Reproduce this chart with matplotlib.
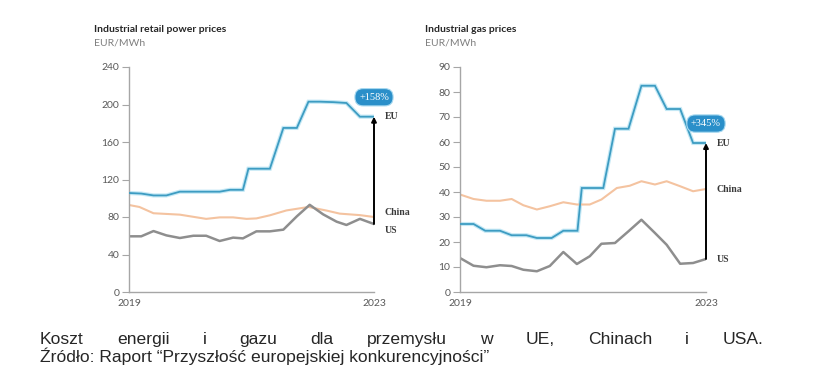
import matplotlib
matplotlib.use("Agg")
import matplotlib.pyplot as plt

# power prices, EUR/MWh
power_t_eu = [2019.0, 2019.2, 2019.4, 2019.61, 2019.83, 2020.05, 2020.26, 2020.48, 2020.65, 2020.86,
              2020.95, 2021.11, 2021.3, 2021.52, 2021.74, 2021.93, 2022.12, 2022.34, 2022.55, 2022.77, 2023.0]
power_eu = [105.6, 105, 103, 103, 107, 107, 107, 107, 109, 109,
            131.5, 131.5, 131.5, 175, 175, 203, 203, 202.5, 201.6, 187, 187]
power_t_cn = [2019.0, 2019.17, 2019.4, 2019.83, 2020.26, 2020.48, 2020.7, 2020.92, 2021.08, 2021.3,
              2021.57, 2021.93, 2022.23, 2022.44, 2022.77, 2023.0]
power_cn = [92.8, 90.7, 84, 82.5, 78, 79.6, 79.6, 78, 78.5, 81.8, 87, 90.7, 86.8, 83.6, 82, 80]
power_t_us = [2019.0, 2019.2, 2019.4, 2019.61, 2019.83, 2020.05, 2020.26, 2020.48, 2020.7, 2020.86,
              2021.08, 2021.3, 2021.52, 2021.74, 2021.95, 2022.17, 2022.39, 2022.55, 2022.77, 2023.0]
power_us = [59.4, 59.4, 65, 60.4, 57.6, 60, 60, 54.4, 58, 57.2,
            64.7, 64.7, 66.5, 80.7, 93, 82.8, 75, 71.5, 78, 72.5]

# gas prices, EUR/MWh
gas_t_eu = [2019.0, 2019.22, 2019.41, 2019.65, 2019.84, 2020.08, 2020.25, 2020.49, 2020.68, 2020.91,
            2020.98, 2021.17, 2021.33, 2021.52, 2021.74, 2021.95, 2022.17, 2022.36, 2022.58, 2022.79, 2023.0]
gas_eu = [27.2, 27.2, 24.5, 24.5, 22.7, 22.7, 21.6, 21.6, 24.5, 24.5,
          41.6, 41.6, 41.6, 65.3, 65.3, 82.5, 82.5, 73.2, 73.2, 59.6, 59.6]
gas_t_cn = [2019.0, 2019.22, 2019.43, 2019.65, 2019.84, 2020.03, 2020.25, 2020.46, 2020.68, 2020.9,
            2021.11, 2021.3, 2021.55, 2021.76, 2021.95, 2022.17, 2022.36, 2022.58, 2022.79, 2023.0]
gas_cn = [39, 37.2, 36.5, 36.5, 37.2, 34.7, 33, 34.3, 35.9, 35,
          35, 37, 41.6, 42.5, 44.3, 43, 44.3, 42.3, 40.3, 41.2]
gas_t_us = [2019.0, 2019.22, 2019.43, 2019.65, 2019.84, 2020.03, 2020.25, 2020.46, 2020.68, 2020.9,
            2021.11, 2021.3, 2021.52, 2021.74, 2021.95, 2022.17, 2022.36, 2022.58, 2022.79, 2023.0]
gas_us = [13.6, 10.5, 9.9, 10.7, 10.4, 8.9, 8.3, 10.4, 16, 11.2,
          14.3, 19.3, 19.6, 24.3, 28.9, 23.6, 18.9, 11.3, 11.6, 13.2]

power_ticks = [0, 40, 80, 120, 160, 200, 240]
gas_ticks = [0, 10, 20, 30, 40, 50, 60, 70, 80, 90]
year_ticks = [2019, 2023]

caption_line1 = "Koszt energii i gazu dla przemysłu w UE, Chinach i USA."
caption_line2 = "Źródło: Raport \u201cPrzyszłość europejskiej konkurencyjności\u201d"

EU_COLOR = "#3d9cc2"
EU_GLOW = "#c4e8f5"
CN_COLOR = "#f4c3a0"
US_COLOR = "#8e8e8e"
BUBBLE = "#2a8fc9"

fig = plt.figure(figsize=(8.23, 3.84), dpi=100)


def draw_panel(rect, title, ylim, yticks, t_eu, eu, t_cn, cn, t_us, us, pct, label_y):
    ax = fig.add_axes(rect)
    ax.plot(t_eu, eu, color=EU_GLOW, lw=3.0, solid_joinstyle="miter", zorder=2)
    ax.plot(t_eu, eu, color=EU_COLOR, lw=1.3, solid_joinstyle="miter", zorder=3)
    ax.plot(t_cn, cn, color=CN_COLOR, lw=1.5, zorder=2)
    ax.plot(t_us, us, color=US_COLOR, lw=1.8, zorder=2)

    ax.set_xlim(2019, 2023)
    ax.set_ylim(*ylim)
    ax.set_yticks(yticks)
    ax.set_xticks(year_ticks)
    ax.tick_params(axis="y", length=5, width=0.8, color="#a6a6a6", pad=2,
                   labelsize=7.5, labelcolor="#595959")
    ax.tick_params(axis="x", length=0, pad=5, labelsize=7.5, labelcolor="#595959")
    for lab in ax.get_xticklabels() + ax.get_yticklabels():
        lab.set_fontfamily("Lato")
    for side in ["top", "right"]:
        ax.spines[side].set_visible(False)
    for side in ["left", "bottom"]:
        ax.spines[side].set_color("#a6a6a6")
        ax.spines[side].set_linewidth(1.0)

    ax.annotate("", xy=(2023, eu[-1]), xytext=(2023, us[-1]),
                arrowprops=dict(arrowstyle="-|>", color="black", lw=1.4,
                                mutation_scale=7, shrinkA=0, shrinkB=0),
                zorder=5, annotation_clip=False)

    ax.annotate(pct, xy=(2023, eu[-1]), xytext=(0, 14), textcoords="offset points",
                ha="center", va="center", color="white", fontsize=7.5,
                family="Liberation Serif",
                bbox=dict(boxstyle="round,pad=0.4,rounding_size=0.8",
                          fc=BUBBLE, ec="#a8d9f0", lw=0.8),
                annotation_clip=False, zorder=6)

    for name, y in zip(["EU", "China", "US"], label_y):
        ax.annotate(name, xy=(2023, y), xytext=(7.5, 0), textcoords="offset points",
                    ha="left", va="center", fontsize=7, fontweight="bold",
                    color="#3a3a3a", family="Liberation Serif", annotation_clip=False)

    x0 = rect[0] - 35 / 823
    fig.text(x0, 1 - 29 / 384, title, fontsize=7.5, fontweight="bold", color="#262626",
             family="Lato", va="center")
    fig.text(x0, 1 - 43 / 384, "EUR/MWh", fontsize=7.5, color="#7f7f7f",
             family="Lato", va="center")
    return ax


draw_panel([129 / 823, 92 / 384, 245 / 823, 225 / 384], "Industrial retail power prices",
           (0, 240), power_ticks, power_t_eu, power_eu, power_t_cn, power_cn,
           power_t_us, power_us, "+158%", [186.7, 85.3, 66])
draw_panel([460 / 823, 92 / 384, 246 / 823, 225 / 384], "Industrial gas prices",
           (0, 90), gas_ticks, gas_t_eu, gas_eu, gas_t_cn, gas_cn,
           gas_t_us, gas_us, "+345%", [59.6, 40.8, 13.2])

# caption: first line justified across the width, second line left aligned
cap_font = dict(fontsize=12.6, color="#262626", family=["Liberation Sans Narrow", "Liberation Sans"],
                va="baseline", ha="left")
left_px, right_px = 40, 763
words = caption_line1.split()
word_texts = [fig.text(0, 1 - 344 / 384, w, **cap_font) for w in words]
fig.canvas.draw()
renderer = fig.canvas.get_renderer()
widths = [t.get_window_extent(renderer).width for t in word_texts]
gap = (right_px - left_px - sum(widths)) / (len(words) - 1)
x = left_px
for t, w in zip(word_texts, widths):
    t.set_x(x / 823)
    x += w + gap
fig.text(left_px / 823, 1 - 362 / 384, caption_line2, **cap_font)

fig.savefig("out.png", dpi=100)
